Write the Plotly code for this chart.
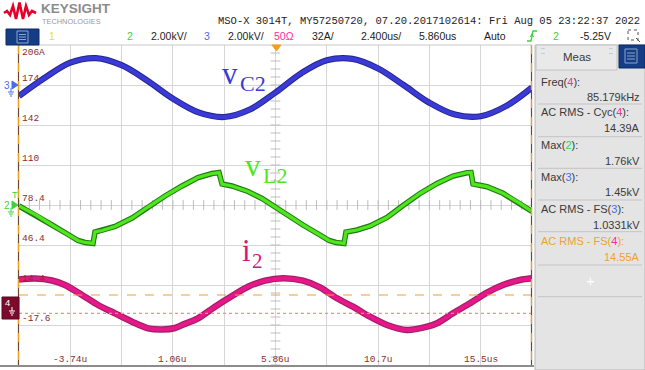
import plotly.graph_objects as go

# ---------------- data ----------------
# time in microseconds
t_vc2 = [-6.14, -4.94, -3.74, -2.54, -1.34, -0.14, 1.06, 2.26, 3.46, 4.66, 5.86,
         7.06, 8.26, 9.46, 10.66, 11.86, 13.06, 14.26, 15.46, 16.66, 17.86]
vc2_kv = [-0.45, 0.455, 1.22, 1.445, 1.09, 0.32, -0.58, -1.27, -1.50, -1.125, -0.275,
          0.685, 1.335, 1.405, 0.925, 0.09, -0.785, -1.38, -1.46, -0.945, -0.025]

t_vl2 = [-6.14, -5.345, -4.596, -3.801, -3.380, -3.052, -2.678, -2.584, -2.257, -1.649,
         -0.853, -0.105, 0.690, 1.486, 2.234, 2.889, 3.217, 3.357, 3.825, 4.574, 5.229,
         5.883, 6.398, 7.147, 7.942, 8.363, 8.691, 9.065, 9.158, 9.673, 10.281, 11.077,
         11.825, 12.620, 13.416, 14.164, 14.819, 15.006, 15.100, 15.755, 16.503, 17.299, 17.86]
vl2_kv = [-0.05, -0.50, -1.00, -1.50, -1.775, -1.875, -1.925, -1.35, -1.275, -1.075,
          -0.65, -0.10, 0.45, 0.95, 1.375, 1.575, 1.625, 1.05, 0.95, 0.675, 0.325,
          -0.125, -0.50, -1.00, -1.50, -1.775, -1.875, -1.925, -1.35, -1.25, -1.05, -0.625,
          -0.025, 0.575, 1.075, 1.45, 1.615, 1.625, 1.05, 0.915, 0.585, 0.085, -0.325]

t_i2 = [-6.14, -5.391, -4.596, -3.988, -3.193, -2.444, -1.649, -0.853, -0.105, 0.550,
        1.158, 1.486, 2.234, 3.030, 3.825, 4.574, 5.369, 6.211, 7.147, 7.942, 8.737,
        9.486, 10.281, 11.077, 12.012, 12.948, 13.416, 14.164, 14.960, 15.755, 16.503,
        17.299, 17.86]
i2_a = [18.8, 19.6, 18.0, 14.4, 6.4, -1.6, -8.24, -14.96, -20.24, -21.2,
        -20.0, -17.6, -12.24, -2.96, 5.6, 13.04, 17.84, 19.76, 17.84, 12.56, 3.76,
        -2.96, -10.96, -17.6, -21.6, -18.96, -16.24, -8.24, -0.24, 8.24, 14.4,
        18.4, 19.76]

# axis labels drawn on the screen
y_tick_vals = [206.4, 174.4, 142.4, 110.4, 78.4, 46.4, 14.4, -17.6]
y_tick_labels = ["206A", "174", "142", "110", "78.4", "46.4", "14.4", "-17.6"]
x_tick_vals = [-3.74, 1.06, 5.86, 10.66, 15.46]
x_tick_labels = ["-3.74u", "1.06u", "5.86u", "10.7u", "15.5us"]

# cursor levels (A)
cursor_levels = [6.4, -8.24]

# measurement panel
meas_names = ['Freq(<span style="color:#ff2aa0">4</span>):',
              'AC RMS - Cyc(<span style="color:#ff2aa0">4</span>):',
              'Max(<span style="color:#3cd23c">2</span>):',
              'Max(<span style="color:#4a6ee8">3</span>):',
              'AC RMS - FS(<span style="color:#4a6ee8">3</span>):',
              'AC RMS - FS(<span style="color:#ff2aa0">4</span>):']
meas_values = ["85.179kHz", "14.39A", "1.76kV", "1.45kV", "1.0331kV", "14.55A"]

# ---------------- geometry helpers ----------------
W, H = 645, 370
L, R, T, B = 19, 532, 45, 365


def px(x):
    return (x - L) / (R - L)


def py(y):
    return (B - y) / (B - T)


def txt(x, y, s, size=11, color="#3a3a3a", family="Liberation Sans", xa="left", ya="middle"):
    return dict(x=px(x), y=py(y), xref="paper", yref="paper", text=s, showarrow=False,
                font=dict(size=size, color=color, family=family),
                xanchor=xa, yanchor=ya, borderpad=0)


def rect(x0, y0, x1, y1, fill, line="rgba(0,0,0,0)", lw=1, layer="above"):
    return dict(type="rect", xref="paper", yref="paper", x0=px(x0), x1=px(x1),
                y0=py(y0), y1=py(y1), fillcolor=fill, line=dict(color=line, width=lw), layer=layer)


def seg(x0, y0, x1, y1, color, lw=1, dash="solid"):
    return dict(type="line", xref="paper", yref="paper", x0=px(x0), x1=px(x1),
                y0=py(y0), y1=py(y1), line=dict(color=color, width=lw, dash=dash))


def path(points, color, lw=1, fill=None):
    d = "M " + " L ".join(f"{px(a):.5f},{py(b):.5f}" for a, b in points)
    if fill:
        d += " Z"
    return dict(type="path", xref="paper", yref="paper", path=d,
                line=dict(color=color, width=lw), fillcolor=fill if fill else "rgba(0,0,0,0)")


fig = go.Figure()

# center graticule tick marks
x_center, y_center = 5.86, 78.4
fig.add_trace(go.Scatter(x=[x_center] * 41, y=[-49.6 + 6.4 * k for k in range(41)], mode="markers",
                         marker=dict(symbol="line-ew", size=7, line=dict(width=1, color="#bdbdbd")),
                         hoverinfo="skip", showlegend=False))
fig.add_trace(go.Scatter(x=[-6.14 + 0.48 * k for k in range(51)], y=[y_center] * 51, mode="markers",
                         marker=dict(symbol="line-ns", size=7, line=dict(width=1, color="#bdbdbd")),
                         hoverinfo="skip", showlegend=False))

# waveforms: dark edge under, bright core on top
fig.add_trace(go.Scatter(x=t_i2, y=i2_a, mode="lines", line=dict(color="#a0205e", width=6.5, shape="spline", smoothing=0.8),
                         hoverinfo="skip", showlegend=False))
fig.add_trace(go.Scatter(x=t_i2, y=i2_a, mode="lines", line=dict(color="#e8168c", width=4.2, shape="spline", smoothing=0.8),
                         name="i2", showlegend=False))

fig.add_trace(go.Scatter(x=t_vl2, y=vl2_kv, yaxis="y3", mode="lines", line=dict(color="#1f7a12", width=5.5),
                         hoverinfo="skip", showlegend=False))
fig.add_trace(go.Scatter(x=t_vl2, y=vl2_kv, yaxis="y3", mode="lines", line=dict(color="#4fe61e", width=3.3),
                         name="vL2", showlegend=False))

fig.add_trace(go.Scatter(x=t_vc2, y=vc2_kv, yaxis="y2", mode="lines",
                         line=dict(color="#26268c", width=6.2, shape="spline", smoothing=1.0),
                         hoverinfo="skip", showlegend=False))
fig.add_trace(go.Scatter(x=t_vc2, y=vc2_kv, yaxis="y2", mode="lines",
                         line=dict(color="#3a3ad8", width=4.2, shape="spline", smoothing=1.0),
                         name="vC2", showlegend=False))

shapes = []
# cursors
shapes.append(dict(type="line", xref="paper", yref="y", x0=0, x1=1, y0=cursor_levels[0], y1=cursor_levels[0],
                   line=dict(color="#f5a030", width=1.2, dash="dash")))
shapes.append(dict(type="line", xref="paper", yref="y", x0=0, x1=1, y0=cursor_levels[1], y1=cursor_levels[1],
                   line=dict(color="#f5a030", width=1.2, dash="dot")))
# plot borders
shapes.append(seg(L, T, R, T, "#c8c8c8", 1))
shapes.append(seg(0, B + 1, R + 2, B + 1, "#8c8c8c", 2))
shapes.append(seg(L - 0.5, T, L - 0.5, B, "#6a4a2a", 1.2))
shapes.append(seg(L - 0.5, T, L - 0.5, B, "#f0a020", 1.2, "dash"))
shapes.append(seg(R - 0.5, T, R - 0.5, B, "#6a4a2a", 1.2))
shapes.append(seg(R - 0.5, T, R - 0.5, B, "#f0a020", 1.2, "dash"))
# trigger position marker
shapes.append(path([(272, 45), (281, 45), (276.5, 51)], "#f0a020", 1, "#f0a020"))

# right panel
shapes.append(rect(535, 45, 645, 370, "#e4e4e4", "#b8b8b8", 1, "below"))
shapes.append(rect(536, 45, 617, 70, "#e9e9e9", "#c2c2c2", 1))
shapes.append(rect(619, 45, 645, 68, "#153d85", "#0c2a60", 1))
shapes.append(rect(625, 49, 637, 63, "rgba(0,0,0,0)", "#8fa6cc", 1))
for yy in (53, 56, 59):
    shapes.append(seg(627, yy, 635, yy, "#8fa6cc", 1))
for ys in (104, 136.7, 168.3, 200, 231.7, 265, 296.7):
    shapes.append(seg(538, ys, 642, ys, "#c4c4c4", 1))

# header: logo and button
shapes.append(path([(4, 13), (7, 11), (10, 15), (13, 6), (16, 19), (19.5, 2.5), (23, 19),
                    (26, 6), (29, 15), (32, 11), (36, 13)], "#e4002b", 2.6))
shapes.append(rect(6, 29, 39, 45, "#153d85", "#0c2a60", 1))
shapes.append(rect(17, 31, 28, 43, "rgba(0,0,0,0)", "#8fa6cc", 1))
for yy in (34.5, 37, 39.5):
    shapes.append(seg(19, yy, 26, yy, "#8fa6cc", 1))
# trigger edge icon
shapes.append(path([(527, 41), (531, 41), (533, 31), (537, 31)], "#3cd23c", 1.3))
shapes.append(path([(530.5, 37), (532, 34), (533.5, 37)], "#3cd23c", 1.2))
# zoom-box icon
shapes.append(rect(628, 30, 638, 40, "rgba(0,0,0,0)", "#555555", 1))
shapes[-1]["line"]["dash"] = "dot"
shapes.append(seg(636, 38, 640, 42, "#555555", 1))

# channel markers on the left
# ch3
shapes.append(path([(12, 81), (18, 85), (12, 89)], "#4a6ee8", 1, "#4a6ee8"))
shapes.append(seg(11, 88, 11, 92, "#4a6ee8", 1))
shapes.append(seg(8, 92, 14, 92, "#4a6ee8", 1))
shapes.append(seg(9, 94, 13, 94, "#4a6ee8", 1))
shapes.append(seg(10, 96, 12, 96, "#4a6ee8", 1))
# ch2
shapes.append(path([(12, 201), (18, 205), (12, 209)], "#3cd23c", 1, "#3cd23c"))
shapes.append(seg(11, 208, 11, 212, "#3cd23c", 1))
shapes.append(seg(8, 212, 14, 212, "#3cd23c", 1))
shapes.append(seg(9, 214, 13, 214, "#3cd23c", 1))
shapes.append(seg(10, 216, 12, 216, "#3cd23c", 1))
# ch4 box
shapes.append(rect(2, 297, 19, 319, "#7c0a2c", "#5a0620", 1))
shapes.append(seg(12, 307, 12, 311, "#ffffff", 1))
shapes.append(seg(9, 311, 15, 311, "#ffffff", 1))
shapes.append(seg(10, 313, 14, 313, "#ffffff", 1))
shapes.append(seg(11, 315, 13, 315, "#ffffff", 1))

ann = []
# header texts
ann.append(txt(40, 9, "<b>KEYSIGHT</b>", 13.5, "#8c8c8c"))
ann.append(txt(40.5, 21.5, "TECHNOLOGIES", 7.4, "#9a9a9a"))
ann.append(txt(216.5, 21.5, "MSO-X 3014T, MY57250720, 07.20.2017102614: Fri Aug 05 23:22:37 2022",
               10.5, "#222222", "Liberation Mono"))
row = 36.5
ann.append(txt(52, row, "1", 10.5, "#e6e600", xa="center"))
ann.append(txt(130, row, "2", 10.5, "#3cd23c", xa="center"))
ann.append(txt(150, row, "2.00kV/", 10.5, "#222222"))
ann.append(txt(207, row, "3", 10.5, "#4a6ee8", xa="center"))
ann.append(txt(227, row, "2.00kV/", 10.5, "#222222"))
ann.append(txt(273, row, "50Ω", 10.5, "#ff2aa0"))
ann.append(txt(311, row, "32A/", 10.5, "#222222"))
ann.append(txt(360, row, "2.400us/", 10.5, "#222222"))
ann.append(txt(418, row, "5.860us", 10.5, "#222222"))
ann.append(txt(483, row, "Auto", 10.5, "#222222"))
ann.append(txt(555.5, row, "2", 10.5, "#3cd23c", xa="center"))
ann.append(txt(579, row, "-5.25V", 10.5, "#222222"))

# left channel marker labels
ann.append(txt(7, 85, "3", 10, "#4a6ee8", xa="center"))
ann.append(txt(7, 205, "2", 10, "#3cd23c", xa="center"))
ann.append(txt(14.5, 195, "T", 9, "#3cd23c", xa="center"))
ann.append(txt(7, 302.5, "4", 9.5, "#ffffff", xa="center"))

# graticule labels
lab_col = "#8a2e2e"
for v, s in zip(y_tick_vals, y_tick_labels):
    ann.append(dict(x=px(21), xref="paper", y=v, yref="y", text=s, showarrow=False,
                    font=dict(size=9.5, color=lab_col, family="Liberation Mono"),
                    xanchor="left", yanchor="top" if v == y_tick_vals[0] else "bottom",
                    borderpad=0, yshift=-1 if v == y_tick_vals[0] else 0))
for v, s in zip(x_tick_vals, x_tick_labels):
    ann.append(dict(x=v, xref="x", y=0, yref="paper", text=s, showarrow=False,
                    font=dict(size=9.5, color=lab_col, family="Liberation Mono"),
                    xanchor="center", yanchor="bottom", borderpad=0, yshift=-1))

# waveform names
ann.append(txt(229.5, 73, "v", 31, "#3a3ad8", "Liberation Serif", xa="center"))
ann.append(txt(253, 83, "C2", 22, "#3a3ad8", "Liberation Serif", xa="center"))
ann.append(txt(252.5, 165, "v", 31, "#4fe61e", "Liberation Serif", xa="center"))
ann.append(txt(275, 175, "L2", 22, "#4fe61e", "Liberation Serif", xa="center"))
ann.append(txt(246, 250, "i", 31, "#d4147c", "Liberation Serif", xa="center"))
ann.append(txt(257.5, 261, "2", 21, "#d4147c", "Liberation Serif", xa="center"))

# measurement panel texts
ann.append(txt(577, 57, "Meas", 11.5, "#3a3a3a", xa="center"))
ann.append(txt(543, 52, "⁚⁚", 8, "#9a9a9a", xa="center"))
ann.append(txt(611, 52, "⁚⁚", 8, "#9a9a9a", xa="center"))
name_y = [81.7, 111.7, 144.5, 176.7, 209, 241]
val_y = [96.7, 128.3, 160.5, 191.7, 225, 256.7]
for i, (n, v) in enumerate(zip(meas_names, meas_values)):
    col = "#f0a030" if i == len(meas_names) - 1 else "#3a3a3a"
    nm = n if i != len(meas_names) - 1 else n.replace("AC RMS - FS(", '<span style="color:#f0a030">AC RMS - FS(</span>')
    ann.append(txt(540, name_y[i], nm, 11, col))
    ann.append(txt(641, val_y[i], v, 11, col, xa="right"))
ann.append(txt(590, 280.7, "+", 15, "#ffffff", xa="center"))

fig.update_layout(
    width=W, height=H,
    margin=dict(l=L, r=W - R, t=T, b=H - B),
    paper_bgcolor="#ffffff", plot_bgcolor="#ffffff",
    xaxis=dict(range=[-6.14, 17.86], tick0=-6.14, dtick=2.4, showgrid=True, gridcolor="#d6d6d6",
               gridwidth=1, showticklabels=False, zeroline=False, showline=False, ticks="", fixedrange=True),
    yaxis=dict(range=[-49.6, 206.4], tick0=-49.6, dtick=32, showgrid=True, gridcolor="#d6d6d6",
               gridwidth=1, showticklabels=False, zeroline=False, showline=False, ticks="", fixedrange=True),
    yaxis2=dict(range=[-13.9, 2.1], overlaying="y", visible=False, fixedrange=True),
    yaxis3=dict(range=[-8.0, 8.0], overlaying="y", visible=False, fixedrange=True),
    shapes=shapes,
    annotations=ann,
    showlegend=False,
)

fig.write_html("out.html", config={"displayModeBar": False},
               post_script="document.body.style.margin='0';document.body.style.overflow='hidden';")
